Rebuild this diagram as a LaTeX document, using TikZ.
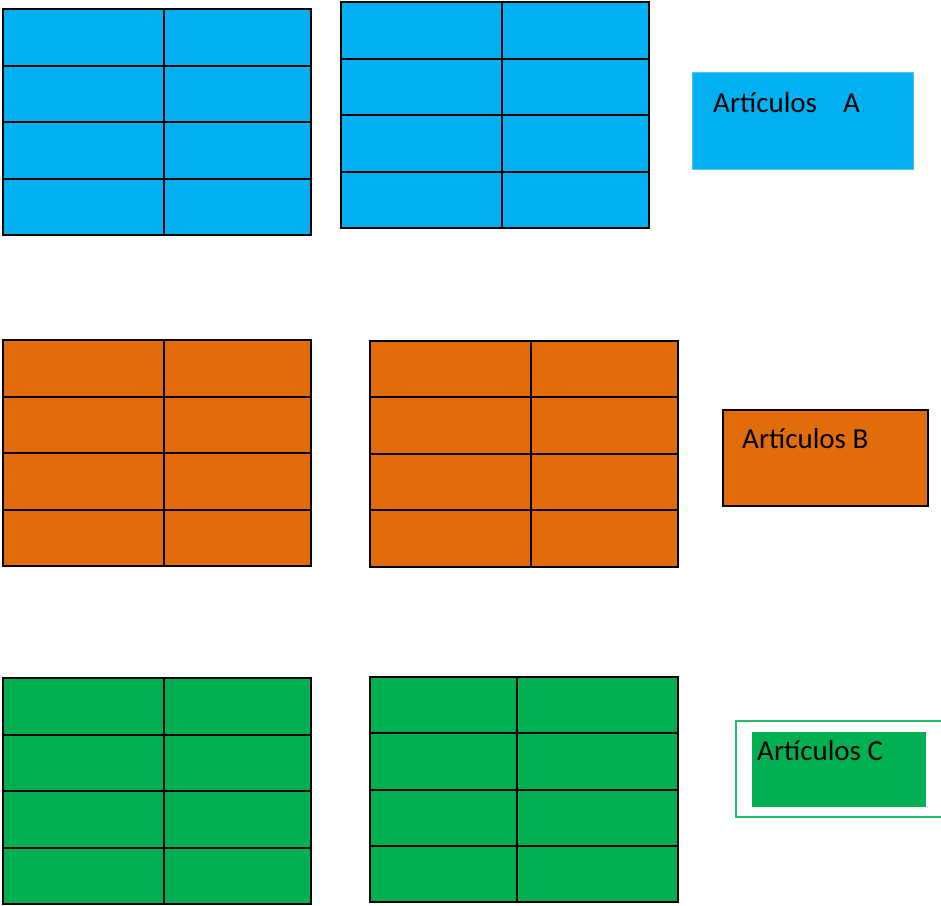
\documentclass[tikz,border=0pt]{standalone}
\usepackage{fontspec}
\setmainfont{Carlito}
\definecolor{cblue}{HTML}{00B0F0}
\definecolor{corange}{HTML}{E36C0A}
\definecolor{cgreen}{HTML}{00B050}
\newcommand\drawgridtab[9]{%
  \fill[#9] (#1,#2) rectangle (#3,#4);
  \draw[gridline] (#5,#2) -- (#5,#4);
  \draw[gridline] (#1,#6) -- (#3,#6);
  \draw[gridline] (#1,#7) -- (#3,#7);
  \draw[gridline] (#1,#8) -- (#3,#8);
  \draw[gridline] (#1,#2) rectangle (#3,#4);
}
\begin{document}
\begin{tikzpicture}[x=1pt,y=-1pt,
  gridline/.style={draw=black,line width=2pt},
  legtext/.style={anchor=base west,inner sep=0pt,font=\fontsize{29}{34}\selectfont,text=black}]
\useasboundingbox (0,0) rectangle (941,905);
% blue
\drawgridtab{3}{9}{311}{235}{164}{66}{122}{179}{cblue}
\drawgridtab{341}{2}{649}{228}{502}{59}{115}{172}{cblue}
% orange
\drawgridtab{3}{340}{311}{566}{164}{397}{453}{510}{corange}
\drawgridtab{370}{341}{678}{567}{531}{397}{454}{510}{corange}
% green
\drawgridtab{3}{678}{311}{904}{164}{735}{791}{848}{cgreen}
\drawgridtab{370}{677}{678}{902}{517}{733}{790}{846}{cgreen}
% legend A
\node[fill=cblue,draw=cblue!70!white,line width=0.8pt,minimum width=221pt,minimum height=97pt,anchor=north west,inner sep=0pt] (legA) at (692,72) {};
\node[legtext] (txtA) at (713,112) {Artículos\hspace{0.9em}A};
% legend B
\node[fill=corange,draw=black,line width=2pt,minimum width=205pt,minimum height=96pt,anchor=north west,inner sep=0pt] (legB) at (722,409) {};
\node[legtext] (txtB) at (742,448) {Artículos B};
% legend C
\draw[draw=cgreen!85!white,line width=1.5pt] (941,721) -- (736,721) -- (736,817) -- (941,817);
\node[fill=cgreen,minimum width=174pt,minimum height=75pt,anchor=north west,inner sep=0pt] (legC) at (752,732) {};
\node[legtext] (txtC) at (757,760) {Artículos C};
\end{tikzpicture}
\end{document}
